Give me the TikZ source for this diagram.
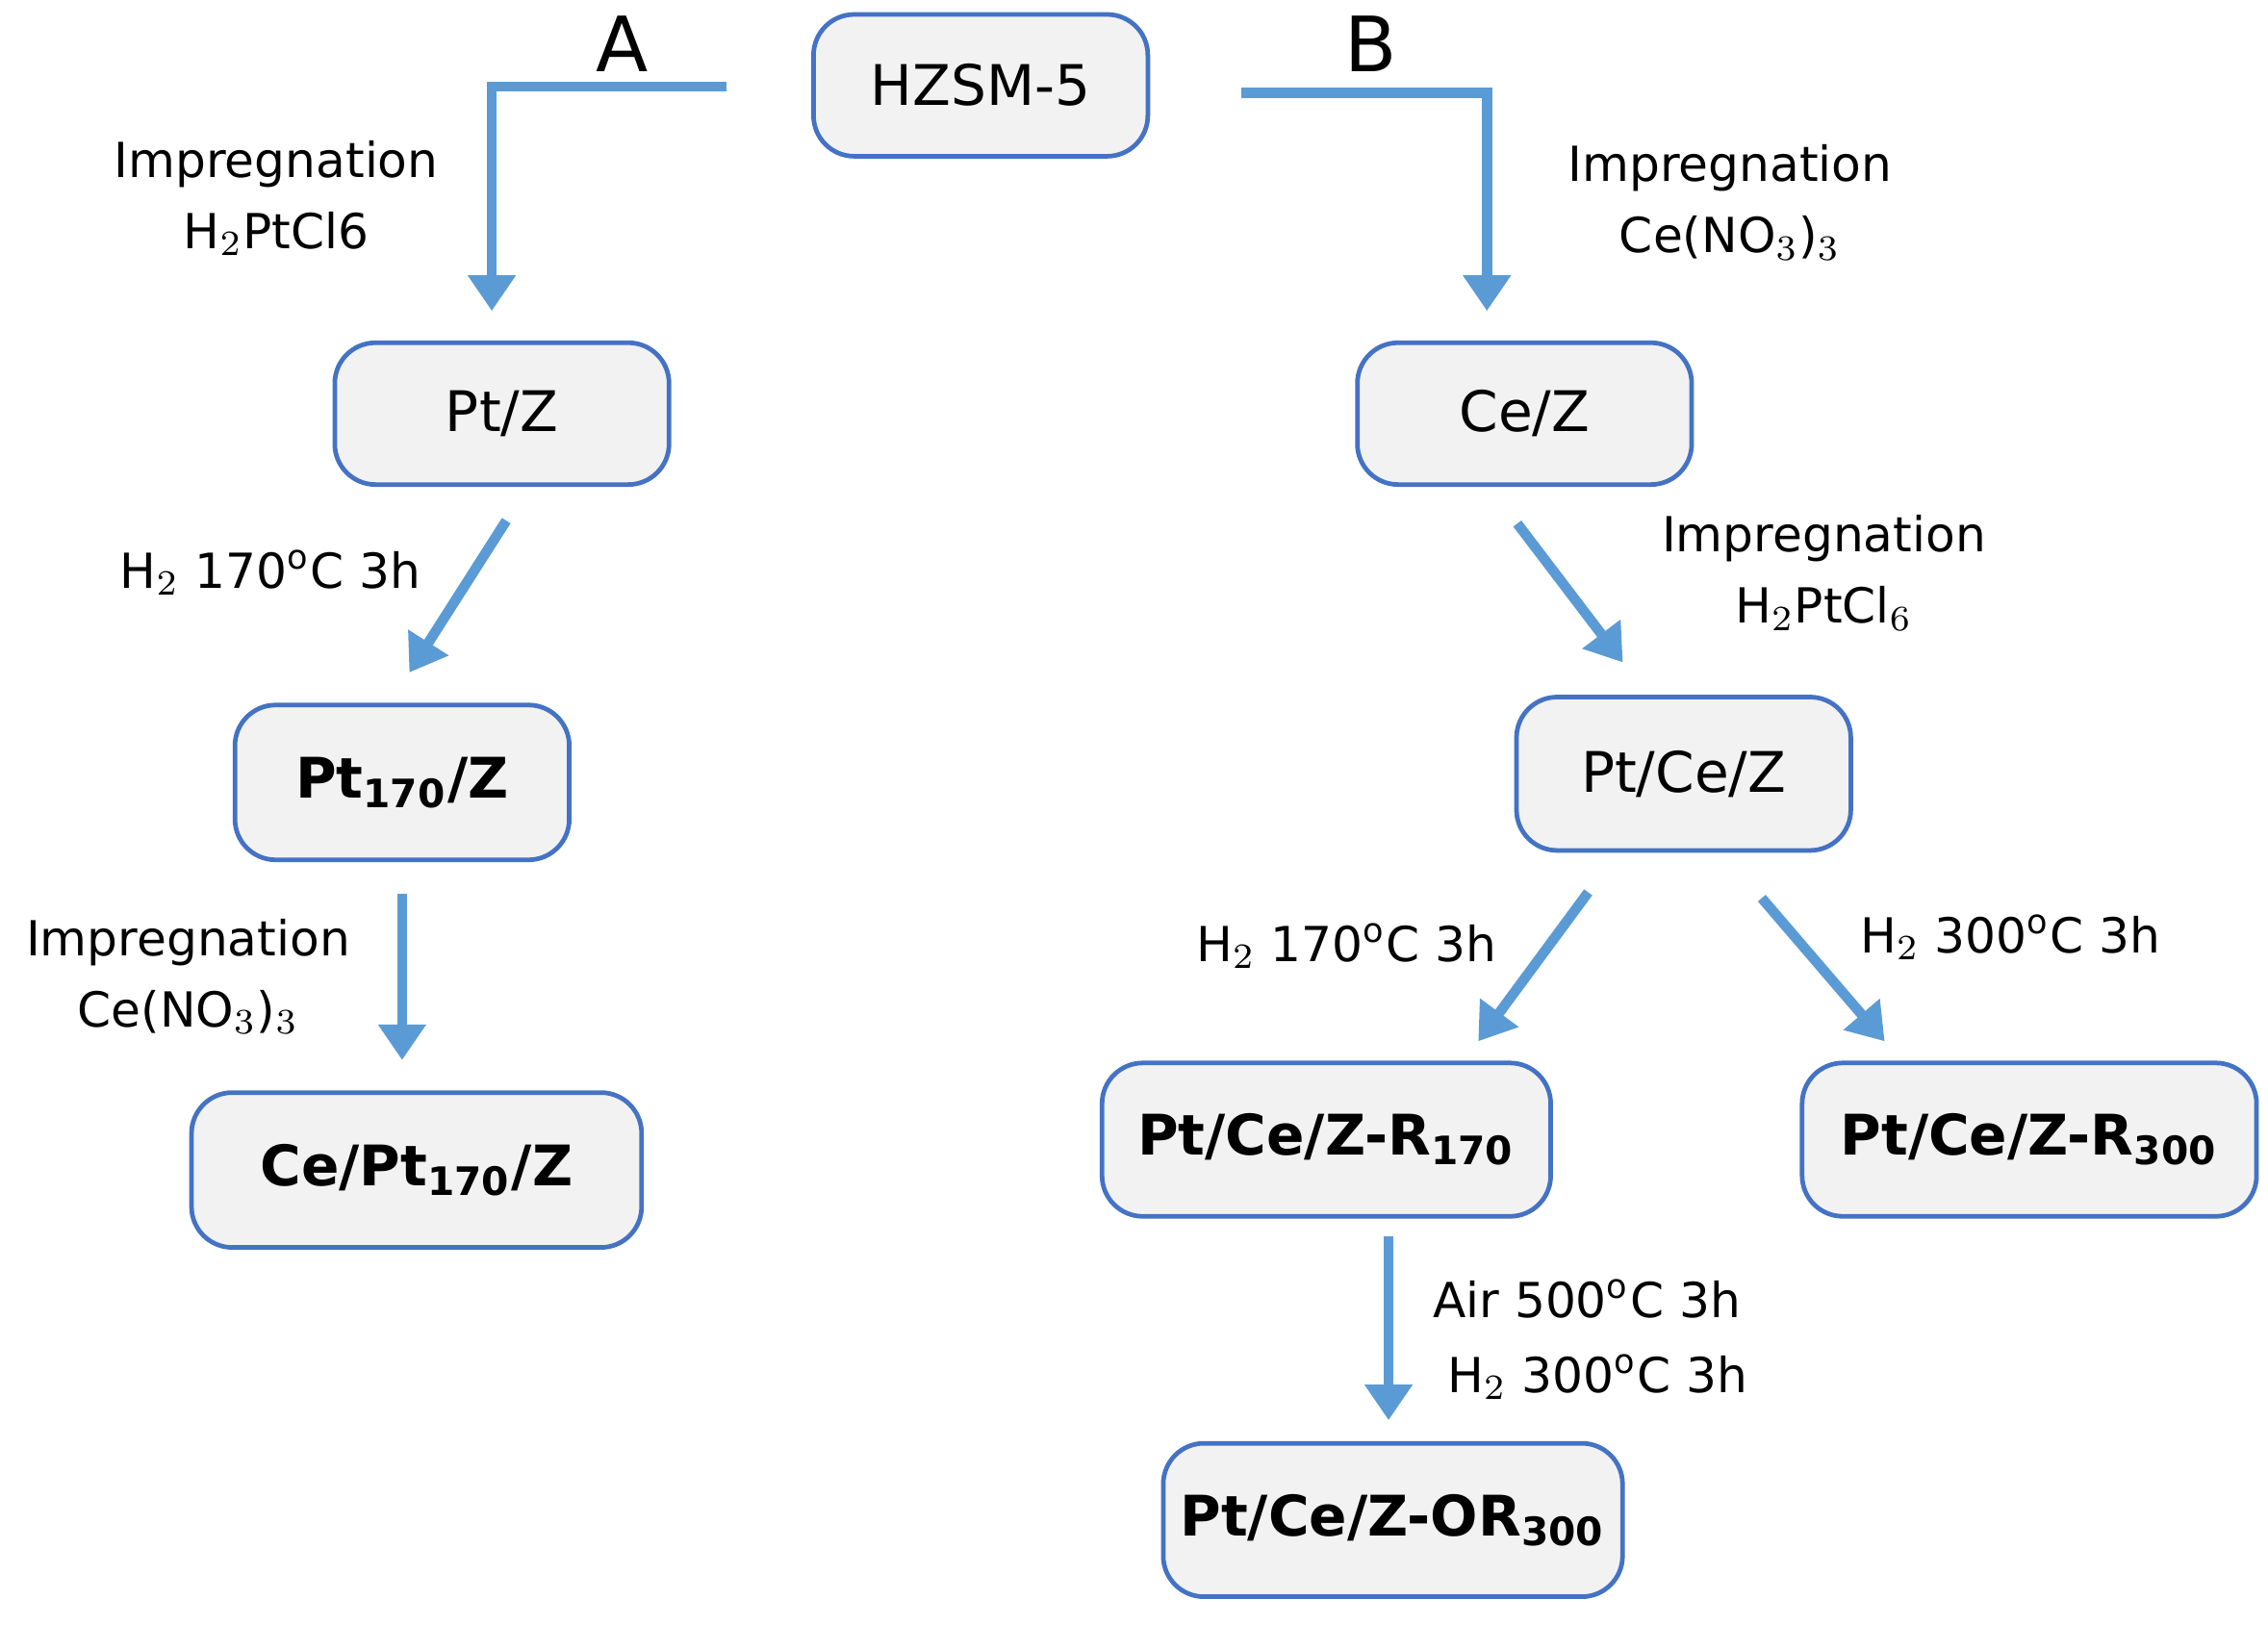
\documentclass[tikz,border=0pt]{standalone}
\usepackage{fontspec}
\setmainfont{DejaVu Sans}
\usetikzlibrary{arrows.meta}
\definecolor{arr}{RGB}{91,155,213}
\definecolor{bx}{RGB}{242,242,242}
\definecolor{bd}{RGB}{68,114,196}
\begin{document}
\begin{tikzpicture}[x=0.01cm,y=-0.01cm,
 box/.style={draw=bd,fill=bx,rounded corners=8pt,line width=0.9pt,minimum width=231\pgflinewidth,font=\fontsize{11}{13}\selectfont},
 ar/.style={draw=arr,line width=2pt,-{Triangle[width=9pt,length=7pt]}},
 lab/.style={font=\fontsize{9.5}{12}\selectfont,align=center,inner sep=0pt}]
\useasboundingbox (0,0) rectangle (1568,1123);
\tikzset{bxs/.style={box,minimum width=2.31cm,minimum height=0.98cm}}
\node[bxs] (h) at (678,59) {HZSM-5};
\node[bxs] (pz) at (347,286) {Pt/Z};
\node[bxs] (cz) at (1054,286) {Ce/Z};
\node[bxs,minimum height=1.07cm] (p170) at (278,541) {\textbf{Pt$_{\mathbf{170}}$/Z}};
\node[bxs,minimum height=1.06cm] (pcz) at (1164,535) {Pt/Ce/Z};
\node[bxs,minimum width=3.11cm,minimum height=1.07cm] (cp) at (288,809) {\textbf{Ce/Pt$_{\mathbf{170}}$/Z}};
\node[bxs,minimum width=3.1cm,minimum height=1.06cm] (r170) at (917,788) {\textbf{Pt/Ce/Z-R$_{\mathbf{170}}$}};
\node[bxs,minimum width=3.14cm,minimum height=1.06cm] (r300) at (1403,788) {\textbf{Pt/Ce/Z-R$_{\mathbf{300}}$}};
\node[bxs,minimum width=3.11cm,minimum height=1.06cm] (or) at (963,1051) {\textbf{Pt/Ce/Z-OR$_{\mathbf{300}}$}};
\node[font=\fontsize{15}{18}\selectfont] (A) at (430,30) {A};
\node[font=\fontsize{15}{18}\selectfont] (B) at (948,30) {B};
\coordinate (a0) at (502,60); \coordinate (a1) at (340,60); \coordinate (a2) at (340,215);
\coordinate (b0) at (858,64); \coordinate (b1) at (1028,64); \coordinate (b2) at (1028,215);
\draw[ar] (a0) -- (a1) -- (a2);
\draw[ar] (b0) -- (b1) -- (b2);
\coordinate (c0) at (350,360); \coordinate (c1) at (283,465);
\coordinate (d0) at (1049,362); \coordinate (d1) at (1122,458);
\coordinate (e0) at (278,618); \coordinate (e1) at (278,733);
\coordinate (f0) at (1098,617); \coordinate (f1) at (1022,720);
\coordinate (g0) at (1218,621); \coordinate (g1) at (1303,720);
\coordinate (k0) at (960,855); \coordinate (k1) at (960,982);
\draw[ar] (c0) -- (c1); \draw[ar] (d0) -- (d1); \draw[ar] (e0) -- (e1);
\draw[ar] (f0) -- (f1); \draw[ar] (g0) -- (g1); \draw[ar] (k0) -- (k1);
\node[lab] (l1) at (191,137) {Impregnation\\[2pt]H$_2$PtCl6};
\node[lab] (l2) at (1196,140) {Impregnation\\[2pt]Ce(NO$_3$)$_3$};
\node[lab] (l3) at (187,396) {H$_2$ 170$^{\rm o}$C 3h};
\node[lab] (l4) at (1261,396) {Impregnation\\[2pt]H$_2$PtCl$_6$};
\node[lab] (l5) at (130,675) {Impregnation\\[2pt]Ce(NO$_3$)$_3$};
\node[lab] (l6) at (931,654) {H$_2$ 170$^{\rm o}$C 3h};
\node[lab] (l7) at (1390,648) {H$_2$ 300$^{\rm o}$C 3h};
\node[lab,anchor=west] (l8) at (990,898) {Air 500$^{\rm o}$C 3h};
\node[lab,anchor=west] (l9) at (1000,952) {H$_2$ 300$^{\rm o}$C 3h};
\end{tikzpicture}
\end{document}
